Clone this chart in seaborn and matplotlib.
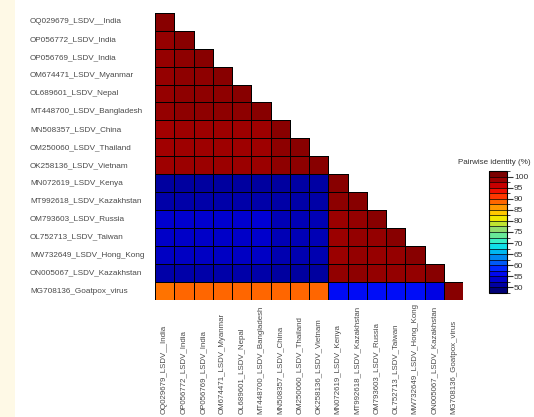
import numpy as np
import pandas as pd
import matplotlib
matplotlib.use("Agg")
import matplotlib.pyplot as plt
import seaborn as sns
from matplotlib.colors import LinearSegmentedColormap, ListedColormap, BoundaryNorm, Normalize
from matplotlib.cm import ScalarMappable
from matplotlib.patches import Rectangle
from matplotlib.transforms import blended_transform_factory

# sekans isimleri (satir = sutun sirasi)
isimler = ["OQ029679_LSDV__India", "OP056772_LSDV_India", "OP056769_LSDV_India",
           "OM674471_LSDV_Myanmar", "OL689601_LSDV_Nepal", "MT448700_LSDV_Bangladesh",
           "MN508357_LSDV_China", "OM250060_LSDV_Thailand", "OK258136_LSDV_Vietnam",
           "MN072619_LSDV_Kenya", "MT992618_LSDV_Kazakhstan", "OM793603_LSDV_Russia",
           "OL752713_LSDV_Taiwan", "MW732649_LSDV_Hong_Kong", "ON005067_LSDV_Kazakhstan",
           "MG708136_Goatpox_virus"]

# alt ucgen pairwise identity degerleri (%), resimden okunan tahmini degerler
identity_rows = [
    [100.0],
    [99.1, 100.0],
    [99.1, 99.5, 100.0],
    [99.1, 99.5, 99.5, 100.0],
    [99.1, 99.5, 99.5, 99.5, 100.0],
    [99.1, 99.5, 99.5, 99.5, 99.6, 100.0],
    [98.3, 98.6, 98.6, 98.6, 98.6, 98.6, 100.0],
    [98.4, 98.6, 98.6, 98.6, 98.6, 98.6, 99.6, 100.0],
    [98.6, 98.8, 98.8, 98.8, 98.8, 98.8, 99.5, 99.6, 100.0],
    [51.0, 51.0, 51.0, 51.0, 51.0, 51.0, 51.0, 51.2, 51.2, 100.0],
    [51.5, 51.5, 51.5, 51.5, 51.5, 51.5, 51.4, 51.4, 51.4, 99.6, 100.0],
    [54.0, 54.0, 54.0, 54.0, 54.0, 54.3, 52.4, 52.4, 52.4, 98.8, 99.2, 100.0],
    [53.6, 53.6, 53.6, 53.6, 53.6, 53.8, 52.4, 52.4, 52.4, 98.8, 99.2, 99.2, 100.0],
    [53.2, 53.2, 53.2, 53.2, 53.2, 53.4, 52.1, 52.1, 52.1, 98.8, 99.2, 99.0, 99.1, 100.0],
    [51.5, 51.5, 51.5, 51.5, 51.5, 51.5, 51.0, 51.0, 51.0, 99.3, 99.5, 99.2, 99.2, 99.2, 100.0],
    [88.2, 88.8, 88.8, 88.8, 88.8, 88.8, 88.8, 88.8, 88.8, 56.8, 56.8, 57.0, 57.0, 57.0, 55.4, 100.0],
]

renk_degerleri = [47.5, 50, 52.5, 55, 57.5, 60, 62.5, 65, 67.5, 70, 72.5, 75,
                  77.5, 80, 82.5, 85, 87.5, 90, 92.5, 95, 97.5, 100, 102.5]
renkler = ["#000060", "#000090", "#0000B8", "#0000E0", "#0010FF", "#0040FF", "#0070F0",
           "#00A0F0", "#00D0F0", "#20F0E0", "#50F0B0", "#80E080", "#A0D860", "#E0F000",
           "#FFE000", "#FFB000", "#FF8000", "#FF5000", "#FF2000", "#E00000", "#B00000",
           "#880000", "#700000"]
cbar_ticks = [50, 55, 60, 65, 70, 75, 80, 85, 90, 95, 100]

n = len(isimler)
mat = np.full((n, n), np.nan)
for i, row in enumerate(identity_rows):
    mat[i, :len(row)] = row
df = pd.DataFrame(mat, index=isimler, columns=isimler)
mask = np.triu(np.ones((n, n), dtype=bool), k=1)

vmin, vmax = renk_degerleri[0], renk_degerleri[-1]
pos = [(v - vmin) / (vmax - vmin) for v in renk_degerleri]
cmap = LinearSegmentedColormap.from_list("pid", list(zip(pos, renkler)), N=512)

sns.set_style("white")
plt.rcParams["font.family"] = ["Liberation Sans", "DejaVu Sans"]

W, H = 534, 417
fig = plt.figure(figsize=(W / 100, H / 100), dpi=100)
fig.patches.append(Rectangle((0, 0), 15 / W, 1, transform=fig.transFigure,
                             facecolor="#FEF9E6", edgecolor="none", zorder=-5))

ax = fig.add_axes([155 / W, 117 / H, 308 / W, 287.3 / H])
cax = fig.add_axes([489 / W, 124 / H, 18 / W, 122 / H])

sns.heatmap(df, mask=mask, cmap=cmap, vmin=vmin, vmax=vmax, linewidths=0.7,
            linecolor="black", cbar=False, xticklabels=False, yticklabels=False, ax=ax)
ax.set_xlabel("")
ax.set_ylabel("")

# maskeli hucrelerin kenar cizgilerini gizle
mesh = ax.collections[0]
kenar = np.where(mask.ravel()[:, None], [0, 0, 0, 0], [0, 0, 0, 1]).astype(float)
mesh.set_edgecolor(kenar)

# satir etiketleri (sola yasli)
tr_y = blended_transform_factory(fig.transFigure, ax.transData)
for i, name in enumerate(isimler):
    fig.text(30 / W, i + 0.5, name, transform=tr_y, ha="left", va="center",
             fontsize=5.9, color="#4a4a4a")

# sutun etiketleri (dikey)
tr_x = blended_transform_factory(ax.transData, fig.transFigure)
for j, name in enumerate(isimler):
    fig.text(j + 0.5, 3 / H, name, transform=tr_x, ha="center", va="bottom",
             rotation=90, fontsize=5.7, color="#4a4a4a")

# renk skalasi (kesikli)
sinirlar = np.array(renk_degerleri)
orta = (sinirlar[:-1] + sinirlar[1:]) / 2
cb_cmap = ListedColormap(cmap(Normalize(vmin, vmax)(orta)))
sm = ScalarMappable(norm=BoundaryNorm(sinirlar, cb_cmap.N), cmap=cb_cmap)
cb = fig.colorbar(sm, cax=cax, ticks=cbar_ticks, drawedges=True)
cb.outline.set_linewidth(0.8)
cb.outline.set_edgecolor("black")
cb.dividers.set_linewidth(0.5)
cb.dividers.set_color("black")
cax.tick_params(length=4, width=0.8, labelsize=6, pad=1, colors="#333333")
fig.text(458 / W, (H - 163) / H, "Pairwise identity (%)", ha="left", va="center",
         fontsize=5.8, color="#333333")

fig.savefig("out.png", dpi=100)
